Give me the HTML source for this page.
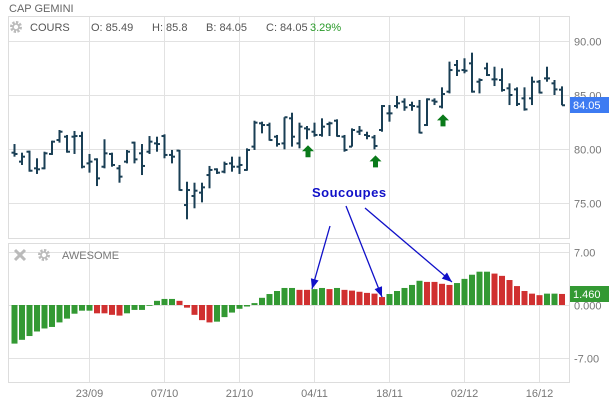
<!DOCTYPE html>
<html><head><meta charset="utf-8"><style>
body{margin:0;background:#fff;width:609px;height:403px;overflow:hidden;font-family:"Liberation Sans",sans-serif}
svg text{font-family:"Liberation Sans",sans-serif}
</style></head><body>
<svg id="c" width="609" height="403">
<text x="9" y="12" font-size="11" fill="#666">CAP GEMINI</text>
</svg>
<script>
const opens=[79.66,78.83,79.75,78.21,78.21,79.54,80.83,81.14,81.14,81.20,78.67,79.04,78.36,79.54,78.21,78.83,80.59,79.60,79.75,80.52,81.20,79.45,79.85,74.81,75.65,75.96,77.59,78.12,77.90,78.67,78.36,78.06,80.22,82.38,82.22,81.14,80.52,82.84,80.52,81.91,81.60,81.30,82.31,82.62,81.14,80.22,81.60,81.30,81.08,81.76,83.30,83.98,84.38,84.07,83.92,82.22,84.48,83.92,85.31,87.78,87.31,87.93,86.23,87.47,86.45,86.39,85.62,85.52,84.69,84.69,86.23,86.54,86.08,85.49];
const highs=[80.46,79.66,79.85,79.14,79.75,80.77,81.76,81.30,81.67,81.60,79.54,79.14,80.90,79.66,78.52,79.91,80.68,80.46,81.20,81.14,81.36,79.91,79.91,76.97,76.88,76.88,78.43,78.21,78.83,79.29,79.29,80.06,82.62,82.53,82.44,81.30,82.94,83.36,82.44,82.13,82.44,82.84,82.53,82.75,81.30,81.91,82.13,81.60,81.30,84.07,84.07,84.91,84.69,84.38,84.54,84.69,84.69,85.71,88.09,88.24,88.40,88.92,86.54,87.99,87.62,87.47,86.08,85.71,85.71,86.70,86.39,87.62,86.39,85.80];
const lows=[79.29,78.52,77.90,77.69,78.12,79.45,80.59,79.66,79.54,78.21,77.81,76.57,78.21,78.36,76.88,78.67,78.67,77.59,79.54,79.75,79.14,78.67,76.14,73.49,74.51,75.06,76.36,77.69,77.75,77.90,77.69,77.99,79.91,81.45,80.77,80.22,79.97,80.22,80.06,80.90,81.14,81.14,81.20,81.14,79.75,80.22,81.30,80.90,79.97,81.60,82.53,83.76,83.54,83.54,81.45,82.13,84.07,83.76,85.15,86.76,87.01,85.22,85.15,86.76,85.83,85.31,84.07,83.98,83.55,84.07,85.15,86.23,85.00,84.05];
const closes=[79.54,79.29,77.99,78.12,79.60,80.68,81.60,79.75,81.20,78.36,78.83,77.28,79.60,78.52,77.44,79.75,79.04,78.43,80.68,80.46,79.45,79.29,76.20,76.20,76.14,76.45,78.06,77.81,78.61,78.36,78.52,79.91,82.44,82.22,80.83,80.46,82.94,81.14,82.07,81.82,81.30,82.07,82.38,81.20,79.91,81.76,81.70,81.20,80.28,83.98,83.30,84.23,83.86,83.98,81.51,84.60,84.38,85.09,87.31,87.25,87.25,85.31,86.39,86.85,86.45,85.46,85.00,84.17,83.67,86.23,85.22,86.54,85.52,84.05];
const ao=[-5.1,-4.6,-4.1,-3.5,-3.1,-2.9,-2.3,-1.8,-1.15,-0.75,-0.75,-1.1,-1.1,-1.3,-1.4,-1.1,-0.65,-0.65,-0.1,0.55,0.8,0.8,0.55,-0.35,-1.3,-2.0,-2.3,-2.2,-1.6,-1.0,-0.5,-0.2,0.25,0.95,1.45,1.85,2.25,2.25,2.0,2.0,2.1,2.25,2.1,2.25,2.0,1.9,1.75,1.6,1.5,1.05,1.45,1.85,2.25,2.65,3.2,3.05,3.05,2.8,2.65,2.9,3.45,4.0,4.4,4.4,4.15,3.85,3.3,2.5,1.85,1.5,1.3,1.5,1.5,1.46];
const dateLabels=["23/09","07/10","21/10","04/11","18/11","02/12","16/12"];
const dateIdx=[10,20,30,40,50,60,70];
const priceTicks=[90,85,80,75];
const aoTicks=[7,0,-7];
const arrowIdx=[39,48,57];

const svg=document.getElementById('c');
const NS='http://www.w3.org/2000/svg';
function mk(t,a,p){const e=document.createElementNS(NS,t);for(const k in a)e.setAttribute(k,a[k]);(p||svg).appendChild(e);return e;}
const xi=i=>14.5+7.5*i;
const yp=p=>41+(90-p)*10.8;
const ya=v=>305-v*7.57;

// frames
let f=mk('rect',{x:8.5,y:16.5,width:561,height:222,fill:'none',stroke:'#ddd'});


f=mk('rect',{x:8.5,y:243.5,width:561,height:139,fill:'none',stroke:'#ddd'});


// grid
dateIdx.forEach(i=>{const x=Math.round(xi(i)-0.5)+0.5;
 mk('line',{x1:x,x2:x,y1:17,y2:238,stroke:'#e2e2e2'});
 mk('line',{x1:x,x2:x,y1:244,y2:382,stroke:'#e2e2e2'});});
priceTicks.forEach(p=>{const y=Math.round(yp(p))+0.5;mk('line',{x1:9,x2:569,y1:y,y2:y,stroke:'#e2e2e2'});
 const t=mk('text',{x:574,y:y+4,'font-size':11,fill:'#777'});t.textContent=p.toFixed(2);
 
 });
aoTicks.forEach(v=>{const y=Math.round(ya(v))+0.5;mk('line',{x1:9,x2:569,y1:y,y2:y,stroke:'#e2e2e2'});
 const t=mk('text',{x:574,y:y+4,'font-size':11,fill:'#777'});t.textContent=v===0?'0.000':v.toFixed(2);
 
 });
dateIdx.forEach((i,k)=>{const t=mk('text',{x:xi(i),y:397,'font-size':11,fill:'#777','text-anchor':'middle'});t.textContent=dateLabels[k];
 
 });
// header
mk('line',{x1:9,x2:569,y1:41.5,y2:41.5,stroke:'#e2e2e2'});
const hdr=[['COURS',30,'#555'],['O: 85.49',91,'#555'],['H: 85.8',152,'#555'],['B: 84.05',206,'#555'],['C: 84.05',266,'#555'],['3.29%',310,'#2a9a2a']];
hdr.forEach(h=>{const t=mk('text',{x:h[1],y:31,'font-size':11,fill:h[2]});t.textContent=h[0];
 
 });
function gear(cx,cy,name){const g=mk('g',{});
 mk('circle',{cx:cx,cy:cy,r:4.5,fill:'none',stroke:'#bbb','stroke-width':3,'stroke-dasharray':'2.2 1.3'},g);mk('circle',{cx:cx,cy:cy,r:3,fill:'none',stroke:'#bbb','stroke-width':1.6},g);}
gear(16,27,'price-settings-icon');
gear(44,255,'ao-settings-icon');
const xg=mk('g',{stroke:'#bbb','stroke-width':3});
mk('line',{x1:15,y1:250,x2:25,y2:260},xg);mk('line',{x1:25,y1:250,x2:15,y2:260},xg);
let t=mk('text',{x:62,y:259,'font-size':11,fill:'#777'});t.textContent='AWESOME';


// OHLC
for(let i=0;i<highs.length;i++){const x=xi(i);const g=mk('g',{stroke:'#1a3f55','stroke-width':2});
 
 
 mk('line',{x1:x,x2:x,y1:yp(highs[i]),y2:yp(lows[i])},g);
 mk('line',{x1:x-3,x2:x,y1:yp(opens[i]),y2:yp(opens[i])},g);
 mk('line',{x1:x,x2:x+3,y1:yp(closes[i]),y2:yp(closes[i])},g);}
// AO bars
for(let i=0;i<ao.length;i++){const v=ao[i];const up=i===0||v>ao[i-1]||(v===ao[i-1]&&i>0&&ao[i-1]>ao[Math.max(0,i-2)]);
 const y0=ya(0),y1=ya(v);
 const r=mk('rect',{x:xi(i)-3,y:Math.min(y0,y1),width:6,height:Math.max(0.8,Math.abs(y1-y0)),fill:up?'#339933':'#d03030'});
 
 }
// price arrows
arrowIdx.forEach(i=>{const x=xi(i)+1,y=yp(lows[i])+6;
 const a=mk('path',{d:`M${x} ${y} l-6 6 h3.5 v6 h5 v-6 h3.5 z`,fill:'#0a7a1a'});
 
 });
// last value badges
let b=mk('rect',{x:570,y:97,width:39,height:16,fill:'#3d7bf2'});


t=mk('text',{x:573,y:109,'font-size':11,fill:'#fff'});t.textContent=closes[closes.length-1].toFixed(2);


b=mk('rect',{x:570,y:286,width:39,height:16,fill:'#339933'});


t=mk('text',{x:573,y:298,'font-size':11,fill:'#fff'});t.textContent=ao[ao.length-1].toFixed(3);


// annotation
t=mk('text',{x:312,y:197,'font-size':13,'font-weight':'bold',fill:'#1010c8','letter-spacing':'0.5'});t.textContent='Soucoupes';


const ann=[[330,226,312,289],[346,206,382,297],[365,208,452,282]];
ann.forEach(l=>{const g=mk('g',{});
 mk('line',{x1:l[0],y1:l[1],x2:l[2],y2:l[3],stroke:'#1010c8','stroke-width':1.3},g);
 const ang=Math.atan2(l[3]-l[1],l[2]-l[0]);const L=10,W=4;
 const bx=l[2]-L*Math.cos(ang),by=l[3]-L*Math.sin(ang);
 mk('path',{d:`M${l[2]} ${l[3]} L${bx+W*Math.sin(ang)} ${by-W*Math.cos(ang)} L${bx-W*Math.sin(ang)} ${by+W*Math.cos(ang)} Z`,fill:'#1010c8'},g);});
</script>
</body></html>
